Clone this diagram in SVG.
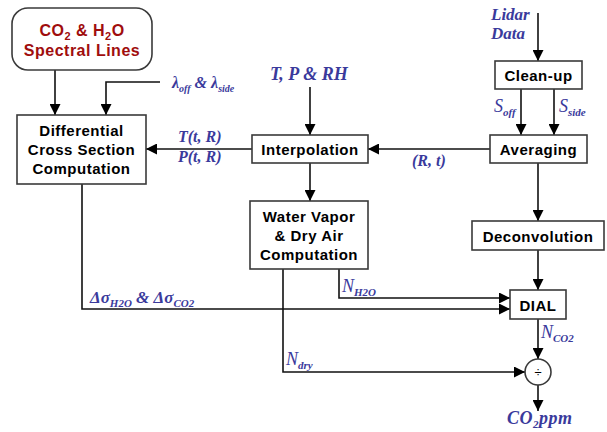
<svg xmlns="http://www.w3.org/2000/svg" width="607" height="432" viewBox="0 0 607 432">
<defs>
<marker id="ah" markerWidth="11" markerHeight="11" refX="11" refY="5.5" orient="auto" markerUnits="userSpaceOnUse">
<path d="M0,0 L11,5.5 L0,11 Z" fill="#000"/>
</marker>
<style>
.box{fill:#fff;stroke:#3a3a3a;stroke-width:1.6}
.bt{font-family:"Liberation Sans",Arial,sans-serif;font-weight:bold;font-size:15px;fill:#000;text-anchor:middle;letter-spacing:0.5px}
.rt{font-family:"Liberation Sans",Arial,sans-serif;font-weight:bold;font-size:16px;fill:#a00d0d;text-anchor:middle;letter-spacing:0.5px}
.lb{font-family:"Liberation Serif","Times New Roman",serif;font-style:italic;font-weight:bold;fill:#3a3a9c}
.cn{fill:none;stroke:#111;stroke-width:1.6}
</style>
</defs>
<rect width="607" height="432" fill="#fff"/>

<g id="connectors">
<line class="cn" x1="55" y1="70" x2="55" y2="115" marker-end="url(#ah)"/>
<polyline class="cn" points="160,82 106,82 106,115" marker-end="url(#ah)"/>
<line class="cn" x1="252" y1="149" x2="146" y2="149" marker-end="url(#ah)"/>
<line class="cn" x1="310" y1="87" x2="310" y2="135" marker-end="url(#ah)"/>
<line class="cn" x1="538" y1="13" x2="538" y2="61" marker-end="url(#ah)"/>
<line class="cn" x1="521" y1="89" x2="521" y2="135" marker-end="url(#ah)"/>
<line class="cn" x1="554" y1="89" x2="554" y2="135" marker-end="url(#ah)"/>
<line class="cn" x1="490" y1="149" x2="368" y2="149" marker-end="url(#ah)"/>
<line class="cn" x1="310" y1="163" x2="310" y2="201" marker-end="url(#ah)"/>
<line class="cn" x1="538" y1="163" x2="538" y2="221" marker-end="url(#ah)"/>
<line class="cn" x1="538" y1="250" x2="538" y2="290" marker-end="url(#ah)"/>
<polyline class="cn" points="82,184 82,309 510,309" marker-end="url(#ah)"/>
<polyline class="cn" points="339,269 339,298 510,298" marker-end="url(#ah)"/>
<polyline class="cn" points="283,269 283,372 525,372" marker-end="url(#ah)"/>
<line class="cn" x1="538" y1="319" x2="538" y2="359" marker-end="url(#ah)"/>
<line class="cn" x1="538" y1="385" x2="538" y2="411" marker-end="url(#ah)"/>
</g>

<g id="spectral">
<rect class="box" x="12" y="8" width="140" height="62" rx="16"/>
<text class="rt" x="82" y="36">CO<tspan dy="4" style="font-size:11px">2</tspan><tspan dy="-4"> &amp; H</tspan><tspan dy="4" style="font-size:11px">2</tspan><tspan dy="-4">O</tspan></text>
<text class="rt" x="82" y="56">Spectral Lines</text>
</g>

<g id="differential">
<rect class="box" x="17" y="115" width="129" height="69"/>
<text class="bt" x="81.5" y="136">Differential</text>
<text class="bt" x="81.5" y="155">Cross Section</text>
<text class="bt" x="81.5" y="174">Computation</text>
</g>

<g id="interpolation">
<rect class="box" x="252" y="135" width="116" height="28"/>
<text class="bt" x="310" y="155">Interpolation</text>
</g>

<g id="cleanup">
<rect class="box" x="495" y="61" width="87" height="28"/>
<text class="bt" x="538.5" y="81">Clean-up</text>
</g>

<g id="averaging">
<rect class="box" x="490" y="135" width="97" height="28"/>
<text class="bt" x="538.5" y="155">Averaging</text>
</g>

<g id="watervapor">
<rect class="box" x="250" y="201" width="118" height="68"/>
<text class="bt" x="309" y="222">Water Vapor</text>
<text class="bt" x="309" y="241">&amp; Dry Air</text>
<text class="bt" x="309" y="260">Computation</text>
</g>

<g id="deconvolution">
<rect class="box" x="472" y="221" width="132" height="29"/>
<text class="bt" x="538" y="242">Deconvolution</text>
</g>

<g id="dial">
<rect class="box" x="510" y="290" width="56" height="29"/>
<text class="bt" x="538" y="311">DIAL</text>
</g>

<g id="divide">
<circle cx="538" cy="372" r="13" fill="#fff" stroke="#3a3a3a" stroke-width="1.6"/>
<text x="538" y="377" font-family="Liberation Sans,Arial,sans-serif" font-size="13" text-anchor="middle">÷</text>
</g>

<g id="labels">
<text class="lb" x="172" y="88" style="font-size:16px">λ<tspan dy="4" style="font-size:10px">off</tspan><tspan dy="-4"> &amp; λ</tspan><tspan dy="4" style="font-size:10px">side</tspan></text>
<text class="lb" x="178" y="142" style="font-size:16px">T(t, R)</text>
<text class="lb" x="178" y="162" style="font-size:16px">P(t, R)</text>
<text class="lb" x="270" y="80" style="font-size:18px">T, P &amp; RH</text>
<text class="lb" x="491" y="20" style="font-size:17px">Lidar</text>
<text class="lb" x="491" y="39" style="font-size:17px">Data</text>
<text class="lb" x="494" y="112" style="font-size:18px;font-weight:normal">S<tspan dy="4" style="font-size:11px;font-weight:bold">off</tspan></text>
<text class="lb" x="559" y="112" style="font-size:18px;font-weight:normal">S<tspan dy="4" style="font-size:11px;font-weight:bold">side</tspan></text>
<text class="lb" x="412" y="166" style="font-size:16px">(R, t)</text>
<text class="lb" x="90" y="303" style="font-size:17px">Δσ<tspan dy="4" style="font-size:11px">H2O</tspan><tspan dy="-4"> &amp; Δσ</tspan><tspan dy="4" style="font-size:11px">CO2</tspan></text>
<text class="lb" x="342" y="292" style="font-size:18px;font-weight:normal">N<tspan dy="4" style="font-size:11px;font-weight:bold">H2O</tspan></text>
<text class="lb" x="286" y="365" style="font-size:18px;font-weight:normal">N<tspan dy="4" style="font-size:11px;font-weight:bold">dry</tspan></text>
<text class="lb" x="541" y="338" style="font-size:18px;font-weight:normal">N<tspan dy="4" style="font-size:11px;font-weight:bold">CO2</tspan></text>
<text class="lb" x="507" y="424" style="font-size:18px;letter-spacing:0.5px">CO<tspan dy="4" style="font-size:11px">2</tspan><tspan dy="-4">ppm</tspan></text>
</g>
</svg>
